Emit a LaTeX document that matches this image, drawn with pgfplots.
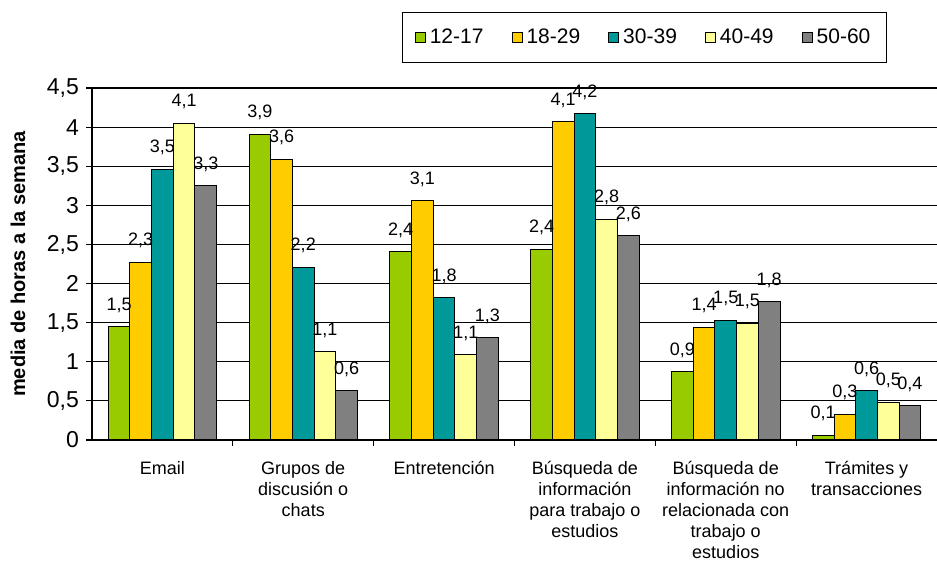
\documentclass[border=0pt]{standalone}
\usepackage{pgfplots}
\pgfplotsset{compat=1.18}
\usepackage{pgfplotstable}
\usepackage{fontspec}
\setmainfont{Liberation Sans}

\definecolor{cA}{RGB}{153,204,0}
\definecolor{cB}{RGB}{255,204,0}
\definecolor{cC}{RGB}{0,153,153}
\definecolor{cD}{RGB}{255,255,153}
\definecolor{cE}{RGB}{128,128,128}

% horas por semana, por grupo de edad
\pgfplotstableread{
x a la b lb c lc d ld e le
0 1.45 1,5 2.27 2,3 3.46 3,5 4.05 4,1 3.25 3,3
1 3.91 3,9 3.59 3,6 2.21 2,2 1.13 1,1 0.63 0,6
2 2.41 2,4 3.06 3,1 1.82 1,8 1.09 1,1 1.31 1,3
3 2.44 2,4 4.07 4,1 4.17 4,2 2.82 2,8 2.61 2,6
4 0.87 0,9 1.44 1,4 1.53 1,5 1.49 1,5 1.77 1,8
5 0.06 0,1 0.33 0,3 0.63 0,6 0.48 0,5 0.44 0,4
}\datos

\begin{document}
\begin{tikzpicture}
\begin{axis}[
    at={(0,0)}, anchor=south west,
    scale only axis, width=422.5pt, height=176pt,
    xmin=-0.5, xmax=5.5, ymin=0, ymax=4.5,
    ybar=0pt, bar width=10.85pt,
    axis x line*=bottom, axis y line*=left,
    axis line style={-, black, line width=0.6pt},
    ymajorgrids, grid style={black, line width=0.6pt},
    ytick={0,0.5,1,1.5,2,2.5,3,3.5,4,4.5},
    yticklabel style={font=\fontsize{11.5}{13}\selectfont,
        /pgf/number format/.cd, use comma, fixed, assume math mode=true},
    xtick={0,...,5},
    xticklabels={Email, {Grupos de\\discusión o\\chats}, Entretención,
        {Búsqueda de\\información\\para trabajo o\\estudios},
        {Búsqueda de\\información no\\relacionada con\\trabajo o\\estudios},
        {Trámites y\\transacciones}},
    xticklabel style={font=\fontsize{9}{10.5}\selectfont, align=center, yshift=-4pt},
    major x tick style={draw=none},
    minor xtick={0.5,1.5,2.5,3.5,4.5},
    tick align=outside, major tick length=3pt, minor tick length=3pt,
    tick style={black, line width=0.6pt},
    ylabel={media de horas a la semana},
    ylabel style={font=\bfseries\fontsize{10}{12}\selectfont,
        at={(axis description cs:-0.0876,0.5)}, anchor=center},
    point meta=explicit symbolic,
    nodes near coords,
    every node near coord/.append style={font=\fontsize{9}{10}\selectfont, yshift=3.5pt},
    legend columns=5,
    legend style={at={(0.9408,1.071)}, anchor=south east, draw=black,
        line width=0.6pt, font=\fontsize{10.5}{12}\selectfont,
        inner xsep=6pt, inner ysep=6pt,
        /tikz/every even column/.append style={column sep=12pt}},
    legend image code/.code={\draw[#1, draw=black, line width=0.5pt] (0pt,-2.5pt) rectangle (5pt,2.5pt);},
]
\addplot[fill=cA, draw=black, line width=0.5pt] table[x=x, y=a, meta=la] {\datos};
\addplot[fill=cB, draw=black, line width=0.5pt] table[x=x, y=b, meta=lb] {\datos};
\addplot[fill=cC, draw=black, line width=0.5pt] table[x=x, y=c, meta=lc] {\datos};
\addplot[fill=cD, draw=black, line width=0.5pt] table[x=x, y=d, meta=ld] {\datos};
\addplot[fill=cE, draw=black, line width=0.5pt] table[x=x, y=e, meta=le] {\datos};
\legend{12-17, 18-29, 30-39, 40-49, 50-60}
\end{axis}
\pgfresetboundingbox
\useasboundingbox (-46pt,-65.5pt) rectangle (422.5pt,220pt);
\end{tikzpicture}
\end{document}
